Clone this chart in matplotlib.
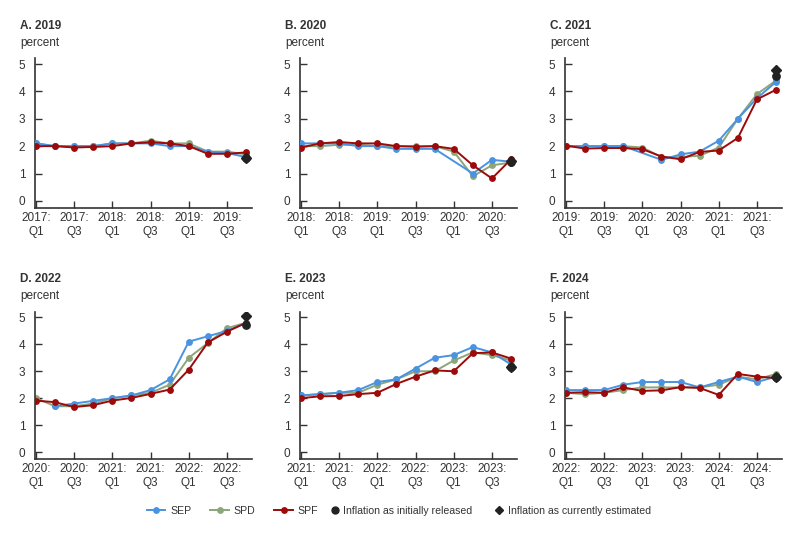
import numpy as np
import matplotlib
matplotlib.use("Agg")
import matplotlib.pyplot as plt
from matplotlib.lines import Line2D

plt.rcParams['font.family'] = ['Liberation Sans', 'DejaVu Sans']

nan = np.nan

titles = ["A. 2019", "B. 2020", "C. 2021", "D. 2022", "E. 2023", "F. 2024"]

tick_labels = [
    ["2017:\nQ1", "2017:\nQ3", "2018:\nQ1", "2018:\nQ3", "2019:\nQ1", "2019:\nQ3"],
    ["2018:\nQ1", "2018:\nQ3", "2019:\nQ1", "2019:\nQ3", "2020:\nQ1", "2020:\nQ3"],
    ["2019:\nQ1", "2019:\nQ3", "2020:\nQ1", "2020:\nQ3", "2021:\nQ1", "2021:\nQ3"],
    ["2020:\nQ1", "2020:\nQ3", "2021:\nQ1", "2021:\nQ3", "2022:\nQ1", "2022:\nQ3"],
    ["2021:\nQ1", "2021:\nQ3", "2022:\nQ1", "2022:\nQ3", "2023:\nQ1", "2023:\nQ3"],
    ["2022:\nQ1", "2022:\nQ3", "2023:\nQ1", "2023:\nQ3", "2024:\nQ1", "2024:\nQ3"],
]

# SEP (blue)
sep_2019 = [2.1, 2.0, 2.0, 2.0, 2.1, 2.1, 2.1, 2.0, 2.0, 1.8, 1.75, 1.6]
sep_2020 = [2.1, 2.1, 2.1, 2.0, 2.0, 1.9, 1.9, 1.9, nan, 1.0, 1.5, 1.43]
sep_2021 = [2.0, 2.0, 2.0, 2.0, nan, 1.5, 1.7, 1.8, 2.2, 3.0, 3.75, 4.35]
sep_2022 = [nan, 1.7, 1.8, 1.9, 2.0, 2.1, 2.3, 2.7, 4.1, 4.3, 4.5, 4.8]
sep_2023 = [2.1, 2.15, 2.2, 2.3, 2.6, 2.7, 3.1, 3.5, 3.6, 3.9, 3.7, 3.25]
sep_2024 = [2.3, 2.3, 2.3, 2.5, 2.6, 2.6, 2.6, 2.4, 2.6, 2.8, 2.6, 2.8]

# SPD (green)
spd_2019 = [2.1, 2.0, 2.0, 2.0, 2.1, 2.1, 2.2, 2.1, 2.1, 1.8, 1.8, 1.7]
spd_2020 = [2.0, 2.0, 2.05, 2.05, 2.0, 2.0, 2.0, 2.0, 1.8, 0.9, 1.3, 1.4]
spd_2021 = [2.0, 2.0, 2.0, 2.0, 1.95, 1.6, 1.6, 1.65, 1.95, 3.0, 3.9, 4.4]
spd_2022 = [2.0, 1.7, 1.7, 1.8, 2.0, 2.1, 2.2, 2.5, 3.5, 4.05, 4.6, 4.8]
spd_2023 = [2.1, 2.15, 2.2, 2.2, 2.5, 2.7, 3.0, 3.0, 3.4, 3.7, 3.6, 3.4]
spd_2024 = [2.2, 2.15, 2.2, 2.3, 2.4, 2.4, 2.4, 2.4, 2.5, 2.8, 2.7, 2.9]

# SPF (red)
spf_2019 = [2.0, 2.0, 1.95, 1.97, 2.0, 2.1, 2.14, 2.1, 2.0, 1.72, 1.72, 1.77]
spf_2020 = [1.95, 2.1, 2.15, 2.1, 2.1, 2.0, 1.98, 2.0, 1.9, 1.3, 0.82, 1.52]
spf_2021 = [2.02, 1.91, 1.93, 1.93, 1.89, 1.62, 1.52, 1.79, 1.84, 2.3, 3.71, 4.06]
spf_2022 = [1.91, 1.85, 1.67, 1.74, 1.91, 2.01, 2.16, 2.32, 3.06, 4.07, 4.47, 4.8]
spf_2023 = [2.0, 2.07, 2.08, 2.15, 2.2, 2.53, 2.8, 3.03, 3.0, 3.67, 3.7, 3.47]
spf_2024 = [2.2, 2.22, 2.2, 2.4, 2.27, 2.29, 2.41, 2.38, 2.12, 2.9, 2.8, 2.75]

released = [1.57, 1.42, 4.56, 4.7, 3.17, 2.79]
estimated = [1.55, 1.45, 4.78, 5.07, 3.17, 2.77]

sep_all = [sep_2019, sep_2020, sep_2021, sep_2022, sep_2023, sep_2024]
spd_all = [spd_2019, spd_2020, spd_2021, spd_2022, spd_2023, spd_2024]
spf_all = [spf_2019, spf_2020, spf_2021, spf_2022, spf_2023, spf_2024]

C_SEP = "#4a93e0"
C_SPD = "#8ca57a"
C_SPF = "#9c0a0a"
C_BLK = "#222222"
C_TXT = "#333333"

W, H = 800, 534
fig = plt.figure(figsize=(8, 5.34), dpi=100)

lefts = [35, 300, 565]
rows = [(58, 208), (311.5, 459)]
aw = 217
MS = 3.9
LW = 1.4

for i in range(6):
    r, c = divmod(i, 3)
    top, bot = rows[r]
    ax = fig.add_axes([lefts[c] / W, 1 - bot / H, aw / W, (bot - top) / H])
    x = np.arange(12)
    for data, col, z in ((sep_all[i], C_SEP, 3), (spd_all[i], C_SPD, 2), (spf_all[i], C_SPF, 4)):
        y = np.array(data, dtype=float)
        m = ~np.isnan(y)
        ax.plot(x[m], y[m], color=col, lw=LW, marker='o', ms=MS, zorder=z)
    ax.plot([11], [estimated[i]], marker='D', ms=4.6, color=C_BLK, ls='none', zorder=6)
    ax.plot([11], [released[i]], marker='o', ms=5.3, color=C_BLK, ls='none', zorder=7)

    ax.set_xlim(-0.05, 11.31)
    ax.set_ylim(-0.26, 5.22)
    ax.set_yticks([0, 1, 2, 3, 4, 5])
    ax.set_xticks([0, 2, 4, 6, 8, 10])
    ax.set_xticklabels(tick_labels[i])
    ax.tick_params(direction='in', length=5, width=1, colors=C_TXT, labelsize=8.5, pad=3)
    ax.tick_params(axis='y', pad=7)
    for s in ('top', 'right'):
        ax.spines[s].set_visible(False)
    for s in ('left', 'bottom'):
        ax.spines[s].set_color(C_TXT)
        ax.spines[s].set_linewidth(1.2)

    tx = (lefts[c] - 15) / W
    ty_title = 1 - (top - 32) / H
    ty_pct = 1 - (top - 15) / H
    fig.text(tx, ty_title, titles[i], fontsize=8.5, fontweight='bold', color=C_TXT, va='center', ha='left')
    fig.text(tx, ty_pct, "percent", fontsize=8.5, color=C_TXT, va='center', ha='left')

line_handles = [
    Line2D([], [], color=C_SEP, lw=LW, marker='o', ms=MS),
    Line2D([], [], color=C_SPD, lw=LW, marker='o', ms=MS),
    Line2D([], [], color=C_SPF, lw=LW, marker='o', ms=MS),
]
line_labels = ["SEP", "SPD", "SPF"]
mark_handles = [
    Line2D([], [], color=C_BLK, ls='none', marker='o', ms=5),
    Line2D([], [], color=C_BLK, ls='none', marker='D', ms=4.5),
]
mark_labels = ["Inflation as initially released", "Inflation as currently estimated"]

ly = 1 - 511 / H
leg1 = fig.legend(line_handles, line_labels, loc='center left', bbox_to_anchor=(147 / W, ly), ncol=3,
                  frameon=False, fontsize=7.6, handlelength=1.75, handletextpad=0.45,
                  columnspacing=1.8, borderpad=0, borderaxespad=0)
leg2 = fig.legend(mark_handles, mark_labels, loc='center left', bbox_to_anchor=(331 / W, ly), ncol=2,
                  frameon=False, fontsize=7.6, handlelength=0.7, handletextpad=0.45,
                  columnspacing=2.2, borderpad=0, borderaxespad=0)
for lg in (leg1, leg2):
    for t in lg.get_texts():
        t.set_color(C_TXT)

fig.savefig("out.png", dpi=100)
